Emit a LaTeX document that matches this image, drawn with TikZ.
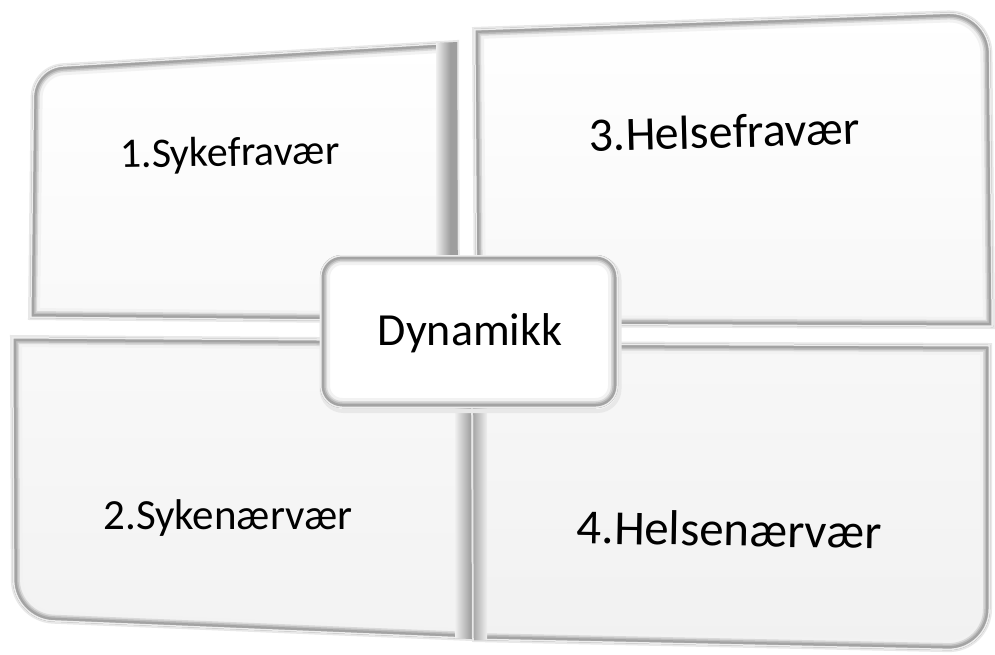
\documentclass[tikz,border=0pt]{standalone}
\usepackage{fontspec}
\setmainfont{Carlito}
\usetikzlibrary{calc}

% Corner points of the four tiles (pixel-like units, y grows downward)
\newcommand\tileA[1]{\path[#1]
  ($(a1)!30pt!(d1)$) .. controls ($(a1)!13pt!(d1)$) and ($(a1)!13pt!(b1)$) .. ($(a1)!30pt!(b1)$)
  -- (b1) -- (c1) -- (d1) -- cycle;}
\newcommand\tileB[1]{\path[#1]
  (a2) -- (b2) -- (c2) -- ($(d2)!40pt!(c2)$)
  .. controls ($(d2)!18pt!(c2)$) and ($(d2)!18pt!(a2)$) .. ($(d2)!40pt!(a2)$) -- cycle;}
\newcommand\tileC[1]{\path[#1]
  (a3) -- ($(b3)!42pt!(a3)$)
  .. controls ($(b3)!19pt!(a3)$) and ($(b3)!19pt!(c3)$) .. ($(b3)!42pt!(c3)$)
  -- (c3) -- (d3) -- cycle;}
\newcommand\tileD[1]{\path[#1]
  (a4) -- (b4) -- ($(c4)!42pt!(b4)$)
  .. controls ($(c4)!19pt!(b4)$) and ($(c4)!19pt!(d4)$) .. ($(c4)!42pt!(d4)$)
  -- (d4) -- cycle;}
\newcommand\tileM[1]{\path[#1, rounded corners=22pt] (320,255) rectangle (618,408);}

% Shadow, gradient fill and stepped bevel rim of one tile
\newcommand\beveltile[3]{%
  #1{draw=gray!18, line width=4pt, shift={(1.5,3)}}
  #1{top color=#2, bottom color=#3}
  \begin{scope}
    #1{clip}
    #1{draw=gray!10, line width=20pt}
    #1{draw=gray!30, line width=14pt}
    #1{draw=gray!52, line width=11pt}
    #1{draw=gray!72, line width=8pt}
    #1{draw=gray!14, line width=3pt}
  \end{scope}}

\begin{document}
\begin{tikzpicture}[x=1pt,y=-1pt,
  tiletext/.style={font=\fontsize{#1}{#1}\selectfont, text=black, anchor=base, inner sep=0pt}]
\useasboundingbox (0,0) rectangle (995,654);
\fill[white] (0,0) rectangle (995,654);

\coordinate (a1) at (33,67);   \coordinate (b1) at (457,42);
\coordinate (c1) at (458,322); \coordinate (d1) at (30,318);
\coordinate (a2) at (12,337);  \coordinate (b2) at (471,340);
\coordinate (c2) at (472,639); \coordinate (d2) at (13,620);
\coordinate (a3) at (474,29);  \coordinate (b3) at (990,11);
\coordinate (c3) at (993,327); \coordinate (d3) at (476,325);
\coordinate (a4) at (473,343); \coordinate (b4) at (990,345);
\coordinate (c4) at (990,651); \coordinate (d4) at (474,640);

% upper tiles
\beveltile{\tileA}{white}{gray!5}
\begin{scope}
  \tileA{clip}
  \shade[left color=gray!12, right color=gray!80] (436,40) rectangle (451,325);
  \fill[gray!76] (451,40) rectangle (458,325);
\end{scope}
\beveltile{\tileC}{white}{gray!6}

% lower tiles
\beveltile{\tileB}{gray!5}{gray!10}
\begin{scope}
  \tileB{clip}
  \shade[left color=gray!12, right color=gray!80] (455,335) rectangle (472,645);
\end{scope}
\beveltile{\tileD}{gray!6}{gray!11}
\begin{scope}
  \tileD{clip}
  \shade[left color=gray!74, right color=gray!12] (472,340) rectangle (487,655);
\end{scope}

% centre tile
\beveltile{\tileM}{white}{white}

% texts
\node[tiletext=42, rotate=1]   (t1) at (230,166) {1.Sykefravær};
\node[tiletext=48, rotate=1.5] (t3) at (725,148) {3.Helsefravær};
\node[tiletext=43]             (t2) at (228,529) {2.Sykenærvær};
\node[tiletext=49, rotate=-1]  (t4) at (729,546) {4.Helsenærvær};
\node[tiletext=46]             (dyn) at (470,345) {Dynamikk};
\end{tikzpicture}
\end{document}
